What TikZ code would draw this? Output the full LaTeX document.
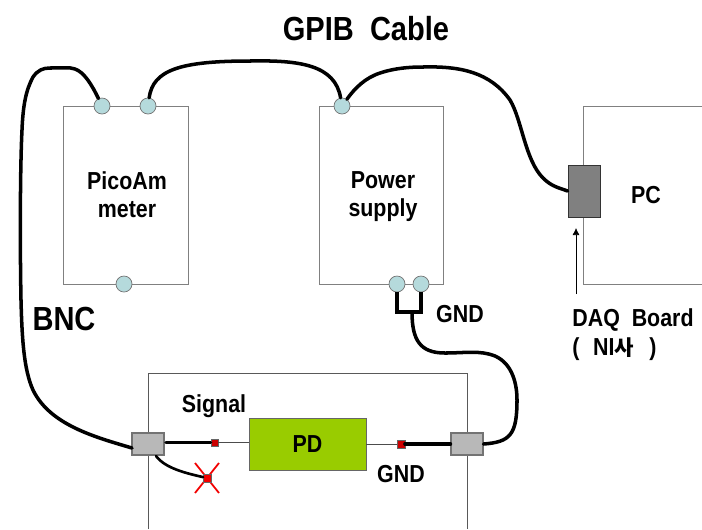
\documentclass[tikz,border=0pt]{standalone}
\usepackage{fontspec}
\usetikzlibrary{arrows.meta}
\newfontfamily\labelfont[FakeStretch=.87]{Liberation Sans}
\newfontfamily\korfont{Noto Sans CJK KR}
\definecolor{portblue}{HTML}{B5DADC}
\definecolor{pdgreen}{HTML}{99CC00}
\definecolor{plugred}{HTML}{CC0000}
\tikzset{
  device/.style={draw=gray, line width=.55pt, inner sep=0pt},
  port/.style={circle, draw=black!55, fill=portblue, line width=.4pt, minimum size=.32cm, inner sep=0pt},
  plug/.style={draw=black!55, fill=black!28, line width=.6pt, minimum width=.64cm, minimum height=.44cm, inner sep=0pt},
  pin/.style={draw=black!60, fill=plugred, line width=.2pt, minimum size=.15cm, inner sep=0pt},
  cable/.style={line width=2pt, line cap=round},
  lead/.style={line width=.4pt, draw=black!70},
  tag/.style={inner sep=0pt, align=center, font=\labelfont\bfseries\fontsize{14}{16}\selectfont},
  bigtag/.style={inner sep=0pt, font=\labelfont\bfseries\fontsize{19}{21}\selectfont}
}
\begin{document}
\begin{tikzpicture}[x=.02cm,y=-.02cm]
\useasboundingbox (0,0) rectangle (702,529);
%% instruments
\node[device, minimum width=2.5cm, minimum height=3.56cm] (pico) at (125.5,195) {};
\node[device, minimum width=2.48cm, minimum height=3.56cm] (power) at (381,195) {};
\draw[draw=gray, line width=.55pt] (702,106) -- (583,106) -- (583,284) -- (702,284);
\draw[draw=black!65, line width=.55pt] (148,529) -- (148,373) -- (467,373) -- (467,529);
\node[draw=black!60, fill=pdgreen, line width=.5pt, minimum width=2.34cm, minimum height=1.04cm, tag] (pd) at (307.5,444) {PD};
%% ports
\node[port] (picoA) at (102,106) {};
\node[port] (picoB) at (148,106) {};
\node[port] (picoC) at (124,284) {};
\node[port] (powerA) at (342,106) {};
\node[port] (powerB) at (397,284) {};
\node[port] (powerC) at (421,284) {};
%% plugs
\node[plug] (plugL) at (148,444) {};
\node[plug] (plugR) at (467,444) {};
\node[draw=black!80, fill=black!50, line width=.5pt, minimum width=.64cm, minimum height=1.04cm, inner sep=0pt] (daq) at (584,191) {};
\node[pin] (pinL) at (214.5,442.5) {};
\node[pin] (pinR) at (401,444) {};
\draw[draw=red!95!black, line width=1pt] (195,463) -- (219,493);
\draw[draw=red!95!black, line width=1pt] (219,463) -- (195,493);
\node[pin, fill=red!95!black] (pinX) at (207,478) {};
%% cables
\coordinate (bncend) at (132,448);
\draw[cable] (bncend) .. controls (95,437) and (50,425) .. (33,390) .. controls (24,370) and (22,340) .. (21,300)
  .. controls (20,250) and (20,170) .. (22,130) .. controls (23,105) and (26,90) .. (33,77) .. controls (38,70) and (43,68) .. (50,68)
  .. controls (62,68) and (70,67) .. (75,69) .. controls (84,72) and (92,85) .. (picoA);
\draw[cable] (picoB) .. controls (153,70) and (180,61) .. (250,61) .. controls (300,60) and (335,65) .. (powerA);
\draw[cable] (powerA) .. controls (355,88) and (365,78) .. (380,73) .. controls (395,68) and (410,67) .. (423,67)
  .. controls (460,66) and (490,72) .. (510,100) .. controls (522,120) and (525,160) .. (543,178)
  .. controls (552,187) and (560,188) .. (daq.west);
\coordinate (gndfork) at (409,312);
\coordinate (gndtap) at (412,312);
\draw[cable, line cap=butt] (powerB) |- (gndfork) -| (powerC);
\draw[cable] (gndtap) .. controls (412,340) and (420,353) .. (445,353) .. controls (465,353) and (480,350) .. (495,356)
  .. controls (513,364) and (517,385) .. (517,400) .. controls (517,435) and (510,442) .. (plugR.east);
\coordinate (leadstart) at (166,442.5);
\draw[cable] (leadstart) -- (pinL);
\draw[lead] (pinL) -- (pd.west |- pinL);
\draw[cable] (plugR) -- (pinR);
\draw[lead] (pinR) -- (pd.east |- pinR);
\coordinate (stubstart) at (156,456);
\draw[cable, line width=1.5pt] (stubstart) .. controls (165,468) and (185,473) .. (pinX);
\draw[-{Latex[length=4pt,width=4pt]}, line width=.4pt] (576,294) -- (576,228);
%% labels
\node[tag] (picotext) at (127,195) {PicoAm\\meter};
\node[tag] (powertext) at (383,197) {Power\\supply};
\node[tag] (pc) at (646,195) {PC};
\node[bigtag] (gpib) at (366,29) {GPIB\ \ Cable};
\node[bigtag] (bnc) at (64,319) {BNC};
\node[tag] (gndtop) at (460,314) {GND};
\node[tag] (gndpd) at (401,474) {GND};
\node[tag] (signal) at (214,406) {Signal};
\node[tag, anchor=west] (board) at (572,320) {DAQ\ \ Board};
\node[tag, anchor=west] (maker) at (572,349) {(\ \ \kern1pt NI{\korfont\fontsize{12}{14}\selectfont 사}\ \ \kern2pt)};
\end{tikzpicture}
\end{document}
